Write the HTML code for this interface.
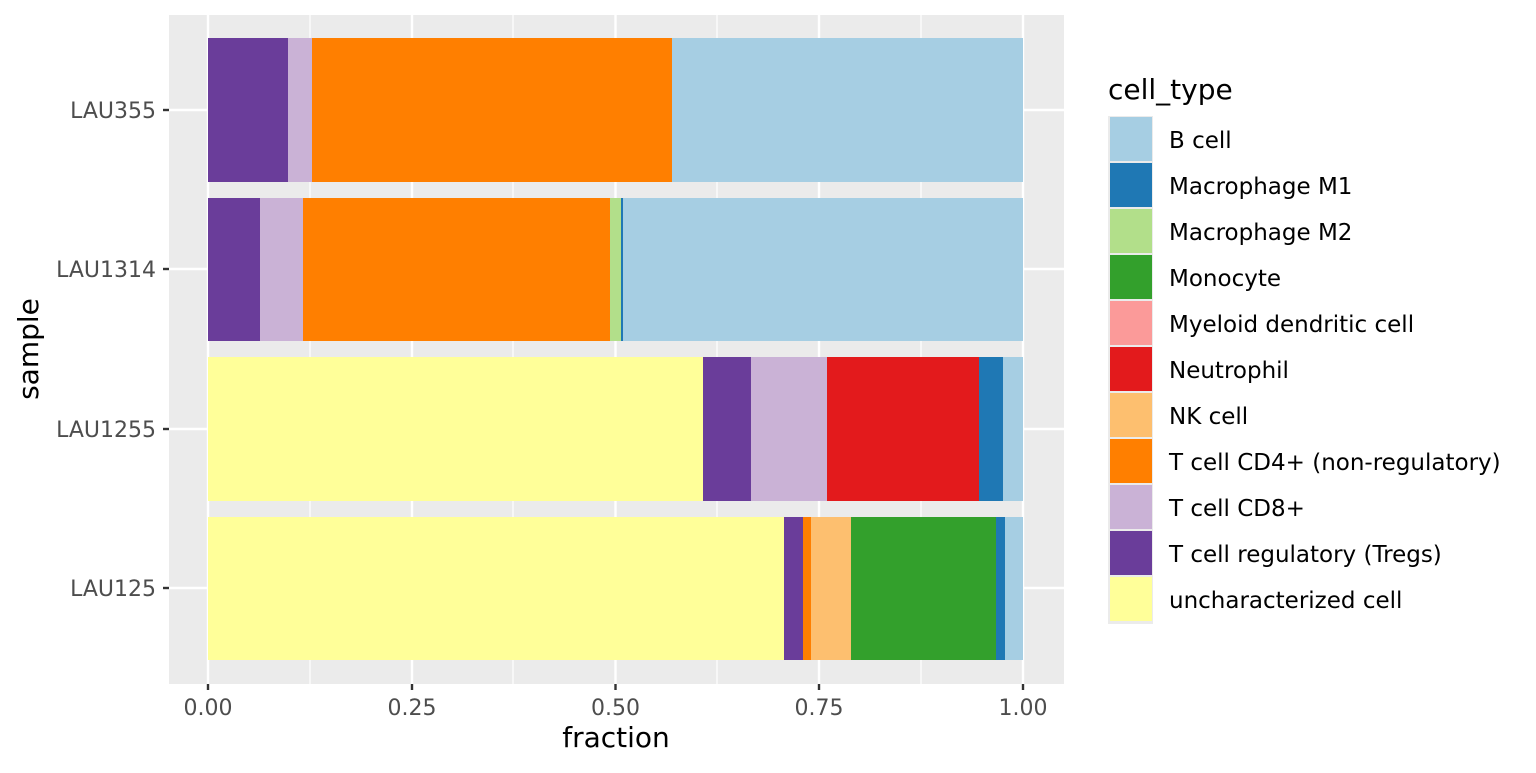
<!DOCTYPE html>
<html><head><style>body{margin:0;background:#fff}</style></head><body>
<svg width="1536" height="768" xmlns="http://www.w3.org/2000/svg" font-family="DejaVu Sans, Liberation Sans, sans-serif">
<rect x="169" y="15" width="895" height="669" fill="#EBEBEB"/>
<g stroke="#fff" stroke-width="1.2">
<line x1="310" y1="15" x2="310" y2="684"/><line x1="513" y1="15" x2="513" y2="684"/><line x1="717" y1="15" x2="717" y2="684"/><line x1="921" y1="15" x2="921" y2="684"/>
</g>
<g stroke="#fff" stroke-width="2.4">
<line x1="208" y1="15" x2="208" y2="684"/><line x1="412" y1="15" x2="412" y2="684"/><line x1="615.5" y1="15" x2="615.5" y2="684"/><line x1="819" y1="15" x2="819" y2="684"/><line x1="1023" y1="15" x2="1023" y2="684"/>
<line x1="169" y1="110" x2="1064" y2="110"/><line x1="169" y1="269" x2="1064" y2="269"/><line x1="169" y1="429" x2="1064" y2="429"/><line x1="169" y1="588" x2="1064" y2="588"/>
</g>
<rect x="208" y="38" width="80" height="144" fill="#6A3D9A"/>
<rect x="288" y="38" width="24" height="144" fill="#CAB2D6"/>
<rect x="312" y="38" width="360" height="144" fill="#FF7F00"/>
<rect x="672" y="38" width="351" height="144" fill="#A6CEE3"/>
<rect x="208" y="198" width="52" height="143" fill="#6A3D9A"/>
<rect x="260" y="198" width="43" height="143" fill="#CAB2D6"/>
<rect x="303" y="198" width="307" height="143" fill="#FF7F00"/>
<rect x="610" y="198" width="11" height="143" fill="#B2DF8A"/>
<rect x="621" y="198" width="2" height="143" fill="#1F78B4"/>
<rect x="623" y="198" width="400" height="143" fill="#A6CEE3"/>
<rect x="208" y="357" width="495" height="144" fill="#FFFF99"/>
<rect x="703" y="357" width="48" height="144" fill="#6A3D9A"/>
<rect x="751" y="357" width="76" height="144" fill="#CAB2D6"/>
<rect x="827" y="357" width="152" height="144" fill="#E31A1C"/>
<rect x="979" y="357" width="24" height="144" fill="#1F78B4"/>
<rect x="1003" y="357" width="20" height="144" fill="#A6CEE3"/>
<rect x="208" y="517" width="576" height="143" fill="#FFFF99"/>
<rect x="784" y="517" width="19" height="143" fill="#6A3D9A"/>
<rect x="803" y="517" width="8" height="143" fill="#FF7F00"/>
<rect x="811" y="517" width="40" height="143" fill="#FDBF6F"/>
<rect x="851" y="517" width="145" height="143" fill="#33A02C"/>
<rect x="996" y="517" width="9" height="143" fill="#1F78B4"/>
<rect x="1005" y="517" width="18" height="143" fill="#A6CEE3"/>
<g stroke="#333" stroke-width="2.4">
<line x1="163" y1="110" x2="169" y2="110"/><line x1="163" y1="269" x2="169" y2="269"/><line x1="163" y1="429" x2="169" y2="429"/><line x1="163" y1="588" x2="169" y2="588"/>
<line x1="208" y1="684" x2="208" y2="690"/><line x1="412" y1="684" x2="412" y2="690"/><line x1="615.5" y1="684" x2="615.5" y2="690"/><line x1="819" y1="684" x2="819" y2="690"/><line x1="1023" y1="684" x2="1023" y2="690"/>
</g>
<g fill="#4D4D4D" font-size="22" text-anchor="end">
<text x="156" y="118">LAU355</text><text x="156" y="277">LAU1314</text><text x="156" y="437">LAU1255</text><text x="156" y="596">LAU125</text>
</g>
<g fill="#4D4D4D" font-size="22" text-anchor="middle">
<text x="208" y="715">0.00</text><text x="412" y="715">0.25</text><text x="615.5" y="715">0.50</text><text x="819" y="715">0.75</text><text x="1023" y="715">1.00</text>
</g>
<text x="616" y="747" font-size="28" text-anchor="middle">fraction</text>
<text transform="translate(38,349) rotate(-90)" font-size="28" text-anchor="middle">sample</text>
<text x="1108" y="99" font-size="28">cell_type</text>
<g font-size="23">
<rect x="1108" y="116" width="45" height="508" fill="#EBEBEB"/>
<rect x="1110" y="117" width="42" height="44" fill="#A6CEE3"/><text x="1169" y="148">B cell</text>
<rect x="1110" y="163" width="42" height="44" fill="#1F78B4"/><text x="1169" y="194">Macrophage M1</text>
<rect x="1110" y="209" width="42" height="44" fill="#B2DF8A"/><text x="1169" y="240">Macrophage M2</text>
<rect x="1110" y="255" width="42" height="44" fill="#33A02C"/><text x="1169" y="286">Monocyte</text>
<rect x="1110" y="301" width="42" height="44" fill="#FB9A99"/><text x="1169" y="332">Myeloid dendritic cell</text>
<rect x="1110" y="347" width="42" height="44" fill="#E31A1C"/><text x="1169" y="378">Neutrophil</text>
<rect x="1110" y="393" width="42" height="44" fill="#FDBF6F"/><text x="1169" y="424">NK cell</text>
<rect x="1110" y="439" width="42" height="44" fill="#FF7F00"/><text x="1169" y="470">T cell CD4+ (non-regulatory)</text>
<rect x="1110" y="485" width="42" height="44" fill="#CAB2D6"/><text x="1169" y="516">T cell CD8+</text>
<rect x="1110" y="531" width="42" height="44" fill="#6A3D9A"/><text x="1169" y="562">T cell regulatory (Tregs)</text>
<rect x="1110" y="577" width="42" height="44" fill="#FFFF99"/><text x="1169" y="608">uncharacterized cell</text>
</g>
</svg>
</body></html>
